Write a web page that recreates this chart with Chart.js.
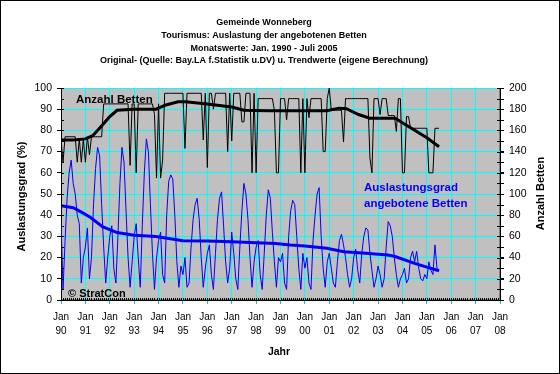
<!DOCTYPE html>
<html><head><meta charset="utf-8">
<script src="https://cdn.jsdelivr.net/npm/chart.js@4.4.1/dist/chart.umd.min.js"></script>
<style>html,body{margin:0;padding:0;background:#fff}#wrap{width:560px;height:374px;position:relative}</style>
</head><body><div id="wrap"><canvas id="c" width="560" height="374"></canvas></div>
<script>
const titleLines = [
  'Gemeinde Wonneberg',
  'Tourismus: Auslastung der angebotenen Betten',
  'Monatswerte: Jan. 1990 - Juli 2005',
  'Original- (Quelle: Bay.LA f.Statistik u.DV) u. Trendwerte (eigene Berechnung)'
];
const startYear = 1990;
const yearLabels = ['90','91','92','93','94','95','96','97','98','99','00','01','02','03','04','05','06','07','08'];
const yLeftTitle = 'Auslastungsgrad (%)';
const yRightTitle = 'Anzahl Betten';
const xTitle = 'Jahr';
const labelBetten = 'Anzahl Betten';
const labelAusl = ['Auslastungsgrad', 'angebotene Betten'];
const copyright = '\u00A9 StratCon';

// monthly occupancy (%), Jan 1990 .. Jul 2005
const auslastung = [
  38, 5, 28, 48, 60, 66, 55, 50, 40, 36, 8, 20,
  25, 34, 10, 20, 45, 62, 72, 68, 45, 25, 8, 20,
  30, 35, 15, 8, 30, 55, 72, 65, 42, 20, 6, 18,
  30, 36, 20, 6, 35, 60, 76, 70, 45, 22, 5, 20,
  28, 32, 12, 8, 40, 56, 59, 57, 40, 18, 6, 16,
  12, 20, 6, 8, 25, 38, 45, 48, 38, 20, 6, 15,
  22, 26, 12, 5, 22, 38, 48, 51, 35, 18, 8, 15,
  32, 22, 10, 5, 25, 42, 55, 50, 38, 20, 6, 18,
  25, 28, 12, 5, 22, 40, 52, 48, 32, 18, 6, 20,
  18, 22, 8, 5, 30, 42, 47, 45, 30, 15, 5, 22,
  15, 20, 8, 5, 28, 40, 50, 53, 30, 15, 6, 18,
  22, 15, 8, 6, 18, 28, 31, 26, 20, 12, 6, 10,
  20, 24, 14, 8, 22, 30, 34, 33, 22, 14, 6, 10,
  16, 12, 6, 10, 25, 37, 35, 30, 20, 12, 6, 10,
  12, 15, 8, 10, 20, 23, 18, 23, 15, 10, 9, 12,
  10, 18, 14, 12, 26, 15, 14
];
// monthly number of offered beds, Jan 1990 .. Jul 2005
const betten = [
  152, 130, 154, 154, 154, 154, 154, 154, 130, 152, 130, 152,
  130, 154, 137, 154, 154, 154, 154, 154, 154, 185, 185, 185,
  185, 185, 185, 185, 185, 185, 185, 185, 185, 185, 127, 185,
  185, 120, 185, 185, 185, 185, 185, 185, 185, 185, 175, 115,
  185, 115, 132, 195, 195, 195, 195, 195, 195, 195, 195, 195,
  195, 143, 195, 195, 195, 195, 195, 195, 195, 195, 151, 195,
  125, 195, 195, 180, 195, 195, 195, 195, 195, 195, 140, 195,
  150, 195, 195, 195, 195, 168, 168, 195, 195, 195, 120, 195,
  120, 190, 190, 190, 190, 190, 190, 190, 190, 179, 120, 120,
  190, 190, 190, 170, 190, 190, 190, 190, 190, 190, 120, 190,
  120, 190, 172, 190, 190, 190, 190, 190, 190, 140, 140, 190,
  200, 179, 179, 179, 179, 179, 179, 149, 190, 190, 190, 190,
  190, 190, 190, 190, 190, 190, 190, 190, 134, 120, 190, 190,
  190, 175, 190, 190, 190, 174, 174, 174, 174, 159, 190, 190,
  120, 120, 173, 173, 162, 162, 162, 162, 162, 162, 162, 162,
  162, 120, 120, 120, 162, 162, 162
];
// trend values
const trendBettenJahr = [1990.0, 1990.5, 1991.0, 1991.3, 1991.7, 1992.0, 1992.3, 1993.0, 1993.9, 1994.3, 1994.8, 1995.1, 1996.0, 1997.0, 1997.5, 1998.5, 2000.9, 2001.4, 2001.7, 2002.2, 2002.66, 2003.7, 2004.3, 2005.0, 2005.5];
const trendBettenWert = [151, 151, 152, 155, 165, 173, 179, 180, 180, 184, 187, 187, 185, 182, 179, 178.5, 178.5, 181, 180.5, 175, 171.5, 171.5, 163, 153, 144.5];
const trendAuslJahr = [1990.0, 1990.5, 1990.8, 1991.2, 1991.7, 1992.3, 1993.0, 1993.9, 1995.0, 1996.0, 1997.0, 1998.0, 1998.8, 1999.4, 2000.0, 2000.9, 2001.6, 2002.5, 2003.4, 2003.7, 2004.5, 2005.0, 2005.5];
const trendAuslWert = [44.5, 43.5, 41.7, 39, 34.6, 31.8, 30.5, 29.9, 28, 27.8, 27.5, 27, 26.7, 25.9, 25.5, 24.4, 22.8, 22, 21.2, 20.5, 17.3, 15.5, 13.8];

const monthly = arr => arr.map((v, i) => ({x: startYear + i / 12, y: v}));
const pairs = (xs, ys) => xs.map((x, i) => ({x: x, y: ys[i]}));

const FONT = "'Liberation Sans', Arial, sans-serif";

const deco = {
  id: 'deco',
  beforeDraw(chart) {
    const {ctx, chartArea: a} = chart;
    ctx.save();
    ctx.fillStyle = '#fff';
    ctx.fillRect(0, 0, chart.width, chart.height);
    ctx.fillStyle = '#C0C0C0';
    ctx.fillRect(a.left, a.top, a.right - a.left, a.bottom - a.top);
    ctx.strokeStyle = '#808080';
    ctx.lineWidth = 1;
    ctx.strokeRect(a.left + 0.5, a.top + 0.5, a.right - a.left - 1, a.bottom - a.top - 1);
    ctx.restore();
  },
  afterDraw(chart) {
    const {ctx, chartArea: a, scales} = chart;
    const x = scales.x, y = scales.y, yR = scales.yR;
    ctx.save();
    ctx.strokeStyle = '#000';
    ctx.lineWidth = 1;
    ctx.beginPath();
    // monthly minor ticks on x axis
    for (let m = 0; m <= 18 * 12; m++) {
      const px = Math.round(x.getPixelForValue(startYear + m / 12)) + 0.5;
      ctx.moveTo(px, a.bottom); ctx.lineTo(px, a.bottom - 2);
    }
    // minor ticks on left axis every 5 %
    for (let v = 0; v <= 100; v += 5) {
      const py = Math.round(y.getPixelForValue(v)) + 0.5;
      ctx.moveTo(a.left, py); ctx.lineTo(a.left + 3, py);
    }
    // ticks on right axis every 10 beds (crossing)
    for (let v = 0; v <= 200; v += 10) {
      const py = Math.round(yR.getPixelForValue(v)) + 0.5;
      ctx.moveTo(a.right - 3, py); ctx.lineTo(a.right + 4, py);
    }
    ctx.stroke();

    // title
    ctx.fillStyle = '#000';
    ctx.textAlign = 'center';
    ctx.textBaseline = 'middle';
    ctx.font = 'bold 9px ' + FONT;
    const tY = [23, 36, 48.5, 61];
    titleLines.forEach((t, i) => ctx.fillText(t, 264, tY[i]));

    // axis titles
    ctx.font = 'bold 11px ' + FONT;
    ctx.save(); ctx.translate(22, 196.5); ctx.rotate(-Math.PI / 2); ctx.fillText(yLeftTitle, 0, 0); ctx.restore();
    ctx.save(); ctx.translate(541, 193.5); ctx.rotate(-Math.PI / 2); ctx.fillText(yRightTitle, 0, 0); ctx.restore();
    ctx.font = 'bold 10.5px ' + FONT;
    ctx.fillText(xTitle, 279, 352);

    // labels inside plot
    ctx.textAlign = 'left';
    ctx.font = 'bold 11.5px ' + FONT;
    ctx.fillStyle = '#000';
    ctx.fillText(labelBetten, 76, 99.5);
    ctx.fillStyle = '#0000FF';
    ctx.fillText(labelAusl[0], 364, 187.5);
    ctx.fillText(labelAusl[1], 364, 203.5);
    ctx.fillStyle = '#000';
    ctx.font = 'bold 11px ' + FONT;
    ctx.fillText(copyright, 68, 294);

    // outer frame
    ctx.strokeStyle = '#000';
    ctx.strokeRect(0.5, 0.5, chart.width - 1, chart.height - 1);
    ctx.restore();
  }
};

new Chart(document.getElementById('c'), {
  type: 'line',
  data: {
    datasets: [
      {label: 'Anzahl Betten', data: monthly(betten), yAxisID: 'yR', borderColor: '#000', borderWidth: 1, pointRadius: 0, tension: 0, fill: false},
      {label: 'Trend Anzahl Betten', data: pairs(trendBettenJahr, trendBettenWert), yAxisID: 'yR', borderColor: '#000', borderWidth: 3, pointRadius: 0, tension: 0, fill: false},
      {label: 'Auslastungsgrad', data: monthly(auslastung), yAxisID: 'y', borderColor: '#0000FF', borderWidth: 1, pointRadius: 0, tension: 0, fill: false},
      {label: 'Trend Auslastungsgrad', data: pairs(trendAuslJahr, trendAuslWert), yAxisID: 'y', borderColor: '#0000FF', borderWidth: 3, pointRadius: 0, tension: 0, fill: false}
    ]
  },
  options: {
    responsive: false,
    animation: false,
    devicePixelRatio: 1,
    layout: {padding: {top: 88, left: 0, right: 0, bottom: 0}},
    plugins: {legend: {display: false}, tooltip: {enabled: false}, title: {display: false}},
    scales: {
      x: {
        type: 'linear', min: 1990, max: 2008,
        afterFit: s => { s.height = 74; },
        afterBuildTicks: s => { s.ticks = yearLabels.map((l, i) => ({value: startYear + i})); },
        ticks: {
          stepSize: 1, autoSkip: false, maxRotation: 0, minRotation: 0, padding: 6.5,
          color: '#000', font: {family: FONT, size: 10, lineHeight: 1.35},
          callback: (v) => ['Jan', yearLabels[Math.round(v) - startYear]]
        },
        grid: {color: '#00FFFF', lineWidth: 1, tickColor: '#00C8C8', tickLength: 4},
        border: {color: '#000', width: 1}
      },
      y: {
        position: 'left', min: 0, max: 100,
        afterFit: s => { s.width = 61; },
        ticks: {stepSize: 10, padding: 5, color: '#000', font: {family: FONT, size: 10.5}},
        grid: {color: '#00FFFF', lineWidth: 1, tickColor: '#000', tickLength: 4},
        border: {color: '#000', width: 1}
      },
      yR: {
        position: 'right', min: 0, max: 200,
        afterFit: s => { s.width = 60; },
        ticks: {stepSize: 20, padding: 5, color: '#000', font: {family: FONT, size: 10.5}},
        grid: {drawOnChartArea: false, tickColor: '#000', tickLength: 4},
        border: {color: '#000', width: 1}
      }
    }
  },
  plugins: [deco]
});
</script></body></html>
